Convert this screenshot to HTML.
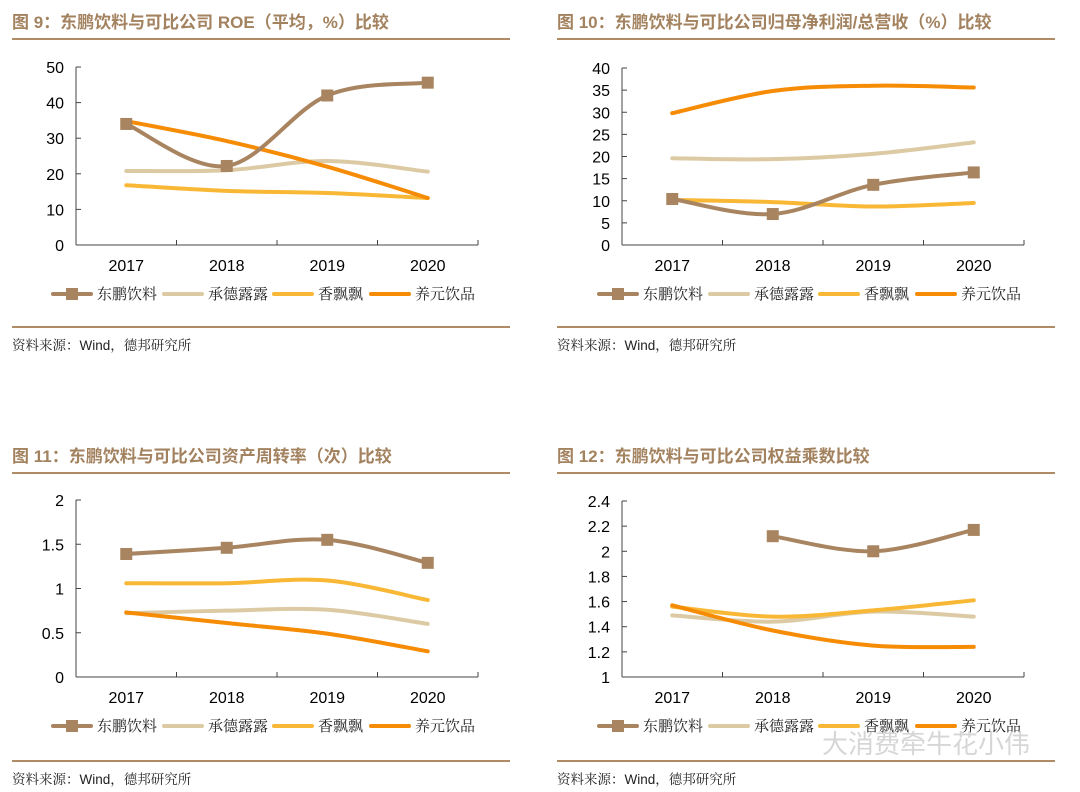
<!DOCTYPE html>
<html><head><meta charset="utf-8">
<style>
html,body{margin:0;padding:0;background:#fff;}
svg{display:block;}
.title{font-family:"Liberation Sans","Noto Sans CJK SC",sans-serif;font-weight:bold;font-size:17px;fill:#a3825f;}
.tick{font-family:"Liberation Sans",sans-serif;font-size:16px;fill:#000;}
.leg{font-family:"Liberation Serif","Noto Serif CJK SC",serif;font-size:15px;fill:#222;}
.src{font-family:"Liberation Sans","Noto Serif CJK SC",sans-serif;font-size:13.5px;fill:#222;}
</style></head>
<body>
<svg id="root" width="1080" height="792" viewBox="0 0 1080 792" xmlns="http://www.w3.org/2000/svg"></svg>
<script>
const categories = ["2017","2018","2019","2020"];
const seriesNames = ["东鹏饮料","承德露露","香飘飘","养元饮品"];
// Chart 9: ROE
const roeDongpeng = [34.0, 22.2, 42.0, 45.6];
const roeChengde = [20.8, 21.0, 23.6, 20.6];
const roeXiangpiaopiao = [16.8, 15.2, 14.6, 13.2];
const roeYangyuan = [34.8, 29.2, 22.0, 13.2];
const roeTicks = ["0","10","20","30","40","50"];
// Chart 10: net margin
const marginDongpeng = [10.4, 7.0, 13.6, 16.4];
const marginChengde = [19.6, 19.4, 20.6, 23.2];
const marginXiangpiaopiao = [10.2, 9.7, 8.7, 9.5];
const marginYangyuan = [29.8, 34.8, 36.0, 35.6];
const marginTicks = ["0","5","10","15","20","25","30","35","40"];
// Chart 11: asset turnover
const turnDongpeng = [1.39, 1.46, 1.55, 1.29];
const turnChengde = [0.72, 0.75, 0.76, 0.60];
const turnXiangpiaopiao = [1.06, 1.06, 1.09, 0.87];
const turnYangyuan = [0.73, 0.61, 0.49, 0.29];
const turnTicks = ["0","0.5","1","1.5","2"];
// Chart 12: equity multiplier
const eqDongpeng = [null, 2.12, 2.00, 2.17];
const eqChengde = [1.49, 1.44, 1.52, 1.48];
const eqXiangpiaopiao = [1.56, 1.48, 1.53, 1.61];
const eqYangyuan = [1.57, 1.37, 1.25, 1.24];
const eqTicks = ["1","1.2","1.4","1.6","1.8","2","2.2","2.4"];

const colors = ["#a88560","#dccaa4","#f8b835","#f68c06"];
const NS = "http://www.w3.org/2000/svg";
const root = document.getElementById("root");
function el(tag, attrs, parent){const e=document.createElementNS(NS,tag);for(const k in attrs)e.setAttribute(k,attrs[k]);(parent||root).appendChild(e);return e;}

function smoothPath(pts){
  let d="M"+pts[0][0]+","+pts[0][1];
  for(let i=0;i<pts.length-1;i++){
    const p0=pts[i-1]||pts[i],p1=pts[i],p2=pts[i+1],p3=pts[i+2]||p2;
    const t=0.34;
    const c1=[p1[0]+(p2[0]-p0[0])*t/2,p1[1]+(p2[1]-p0[1])*t/2];
    const c2=[p2[0]-(p3[0]-p1[0])*t/2,p2[1]-(p3[1]-p1[1])*t/2];
    d+=" C"+c1[0]+","+c1[1]+" "+c2[0]+","+c2[1]+" "+p2[0]+","+p2[1];
  }
  return d;
}

function drawPanel(cfg){
  const g=el("g",{});
  
  
  const t=el("text",{x:cfg.rx0,y:cfg.ty,class:"title"},g); t.textContent=cfg.title;
  
  
  const r1=el("line",{x1:cfg.rx0,x2:cfg.rx1,y1:cfg.r1,y2:cfg.r1,stroke:"#b08c66","stroke-width":2},g);
  
  
  const r2=el("line",{x1:cfg.rx0,x2:cfg.rx1,y1:cfg.r2,y2:cfg.r2,stroke:"#b08c66","stroke-width":2},g);
  
  
  const s=el("text",{x:cfg.rx0,y:cfg.r2+23,class:"src"},g); s.textContent="资料来源：Wind，德邦研究所";
  
  
  const min=parseFloat(cfg.ticks[0]), max=parseFloat(cfg.ticks[cfg.ticks.length-1]);
  const yS=v=>cfg.yb-(v-min)/(max-min)*(cfg.yb-cfg.yt);
  const n=categories.length, step=(cfg.ax1-cfg.ax0)/n;
  const xS=i=>cfg.ax0+step*(i+0.5);
  const ya=el("line",{x1:cfg.ax0,x2:cfg.ax0,y1:cfg.yt,y2:cfg.yb,stroke:"#444","stroke-width":1},g);
  
  
  const xa=el("line",{x1:cfg.ax0,x2:cfg.ax1,y1:cfg.yb,y2:cfg.yb,stroke:"#444","stroke-width":1},g);
  
  
  cfg.ticks.forEach(tk=>{
    const y=yS(parseFloat(tk));
    el("line",{x1:cfg.ax0,x2:cfg.ax0+5,y1:y,y2:y,stroke:"#444"},g);
    const tt=el("text",{x:cfg.ax0-12,y:y+6,class:"tick","text-anchor":"end"},g); tt.textContent=tk;
    
    
  });
  for(let i=0;i<=n;i++){const x=cfg.ax0+step*i; el("line",{x1:x,x2:x,y1:cfg.yb,y2:cfg.yb-5,stroke:"#444"},g);}
  categories.forEach((c,i)=>{
    const tt=el("text",{x:xS(i),y:cfg.yb+26,class:"tick","text-anchor":"middle"},g); tt.textContent=c;
    
    
  });
  const order=[1,2,3,0];
  order.forEach(si=>{
    const vals=cfg.series[si];
    const pts=[];
    vals.forEach((v,i)=>{if(v!==null)pts.push([xS(i),yS(v)]);});
    const p=el("path",{d:smoothPath(pts),fill:"none",stroke:colors[si],"stroke-width":4,"stroke-linecap":"round"},g);
    
    
    if(si===0){pts.forEach(q=>{
      const m=el("rect",{x:q[0]-6,y:q[1]-6,width:12,height:12,fill:colors[0]},g);
      
      
    });}
  });
  const lx=[cfg.lx, cfg.lx+111, cfg.lx+221, cfg.lx+318];
  seriesNames.forEach((nm,si)=>{
    const x=lx[si], y=cfg.ly;
    const lg=el("g",{},g);
    
    
    el("line",{x1:x,x2:x+38,y1:y,y2:y,stroke:colors[si],"stroke-width":4,"stroke-linecap":"round"},lg);
    if(si===0) el("rect",{x:x+13,y:y-6,width:12,height:12,fill:colors[0]},lg);
    const tx=el("text",{x:x+44,y:y+5,class:"leg"},lg); tx.textContent=nm;
  });
}

drawPanel({name:"roe-chart",title:"图 9：东鹏饮料与可比公司 ROE（平均，%）比较",rx0:12,rx1:510,ty:28,r1:39,r2:327,
  ax0:76,ax1:478,yt:67,yb:245,ticks:roeTicks,series:[roeDongpeng,roeChengde,roeXiangpiaopiao,roeYangyuan],lx:53,ly:294});
drawPanel({name:"net-margin-chart",title:"图 10：东鹏饮料与可比公司归母净利润/总营收（%）比较",rx0:557,rx1:1055,ty:28,r1:39,r2:327,
  ax0:622,ax1:1024,yt:68,yb:245,ticks:marginTicks,series:[marginDongpeng,marginChengde,marginXiangpiaopiao,marginYangyuan],lx:599,ly:294});
drawPanel({name:"asset-turnover-chart",title:"图 11：东鹏饮料与可比公司资产周转率（次）比较",rx0:12,rx1:510,ty:462,r1:473,r2:761,
  ax0:76,ax1:478,yt:500,yb:677,ticks:turnTicks,series:[turnDongpeng,turnChengde,turnXiangpiaopiao,turnYangyuan],lx:53,ly:726});
drawPanel({name:"equity-multiplier-chart",title:"图 12：东鹏饮料与可比公司权益乘数比较",rx0:557,rx1:1055,ty:462,r1:473,r2:761,
  ax0:622,ax1:1024,yt:501,yb:677,ticks:eqTicks,series:[eqDongpeng,eqChengde,eqXiangpiaopiao,eqYangyuan],lx:599,ly:726});
const wm=el("text",{x:822,y:753,"font-family":"Liberation Sans, Noto Sans CJK SC, sans-serif","font-size":26,fill:"#cccccc","fill-opacity":0.8});
wm.textContent="大消费牵牛花小伟";


</script>
</body></html>
